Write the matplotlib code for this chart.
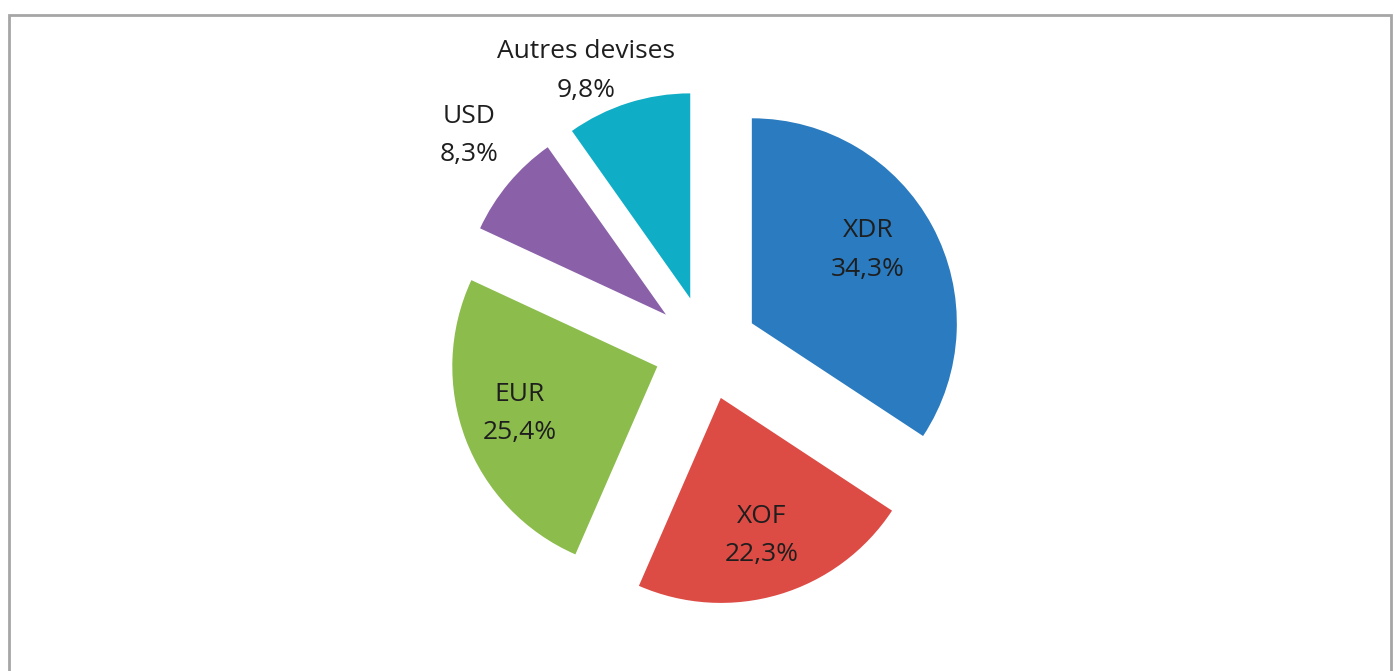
import numpy as np
import matplotlib.pyplot as plt
from matplotlib.patches import Rectangle

labels = ["XDR", "XOF", "EUR", "USD", "Autres devises"]
values = [34.3, 22.3, 25.4, 8.3, 9.8]
pct_text = ["34,3%", "22,3%", "25,4%", "8,3%", "9,8%"]
colors = ["#2a7bbf", "#dd4b45", "#8bbc4c", "#8a60a8", "#10adc6"]
label_dist = [0.67, 0.70, 0.71, 1.30, 1.22]
label_turn = [4, 0, -2, -2.5, 7]   # small angle tweak for the label, degrees

plt.rcParams['font.family'] = ['Open Sans', 'DejaVu Sans']

W, H = 1394, 671
fig = plt.figure(figsize=(W / 100, H / 100), dpi=100)
ax = fig.add_axes([0, 0, 1, 1])

# pie centre and radius in pixels, axes set so 1 unit = radius
cx, cy, rpx = 706, 348, 205

expl = 0.254
wedges, _ = ax.pie(values, colors=colors, startangle=90, counterclock=False,
                   explode=[expl] * len(values), radius=1, center=(0, 0),
                   wedgeprops=dict(linewidth=0))

ax.set_aspect('auto')
ax.set_xlim(-cx / rpx, (W - cx) / rpx)
ax.set_ylim(-(H - cy) / rpx, cy / rpx)
ax.axis('off')

for w, lab, pct, d, t in zip(wedges, labels, pct_text, label_dist, label_turn):
    ang = np.deg2rad((w.theta1 + w.theta2) / 2 + t)
    x0, y0 = w.center
    ax.text(x0 + d * np.cos(ang), y0 + d * np.sin(ang), lab + "\n" + pct,
            ha='center', va='center', fontsize=19, color='#1e1e1e',
            linespacing=1.7)

fig.patches.append(Rectangle((9 / W, -0.1), (1391 - 9) / W, 1.1 - 15 / H,
                             transform=fig.transFigure, fill=False,
                             edgecolor='#a6a6a6', linewidth=2))

fig.savefig("out.png", dpi=100)
